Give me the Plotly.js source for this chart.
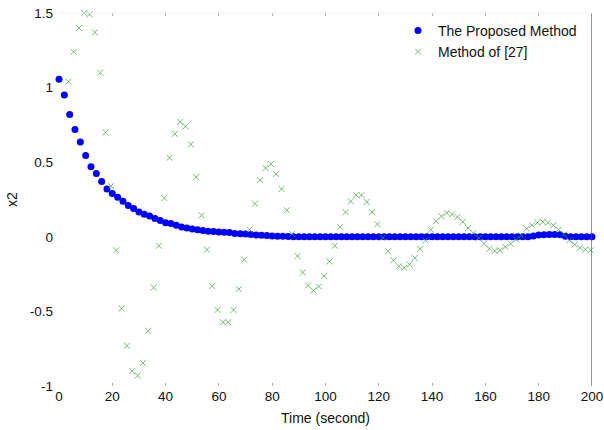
<!DOCTYPE html>
<html>
<head>
<meta charset="utf-8">
<script src="https://cdn.plot.ly/plotly-3.0.1.min.js"></script>
<style>html,body{margin:0;padding:0;background:#fff;}#chart{width:604px;height:430px;}</style>
</head>
<body>
<div id="chart"></div>
<script>
// Time samples of the proposed method (s)
const tProposed = [0,2,4,6,8,10,12,14,16,18,20,22,24,26,28,30,32,34,36,38,40,42,44,46,48,50,52,54,56,58,60,62,64,66,68,70,72,74,76,78,80,82,84,86,88,90,92,94,96,98,100,102,104,106,108,110,112,114,116,118,120,122,124,126,128,130,132,134,136,138,140,142,144,146,148,150,152,154,156,158,160,162,164,166,168,170,172,174,176,178,180,182,184,186,188,190,192,194,196,198,200];
const x2Proposed = [1.056,0.95,0.82,0.72,0.635,0.545,0.47,0.425,0.37,0.32,0.29,0.265,0.239,0.21,0.19,0.167,0.151,0.14,0.122,0.109,0.095,0.089,0.077,0.066,0.059,0.052,0.048,0.043,0.038,0.036,0.033,0.03,0.028,0.022,0.02,0.018,0.016,0.012,0.01,0.009,0.006,0.004,0.003,0.002,0.001,0,0,0,0,0,0,0,0,0,0,0,0,0,0,0,0,0,0,0,0,0,0,0,0,0,0,0,0,0,0,0,0,0,0,0,0,0,0,0,0,0,0,0,0,0.005,0.012,0.014,0.015,0.015,0.013,0.004,0,0,0,0,0];
// Time samples of the method of [27] (s)
const tRef27 = [3.5,5.5,7.5,9.5,11.5,13.5,15.5,17.5,19.5,21.5,23.5,25.5,27.5,29.5,31.5,33.5,35.5,37.5,39.5,41.5,43.5,45.5,47.5,49.5,51.5,53.5,55.5,57.5,59.5,61.5,63.5,65.5,67.5,69.5,71.5,73.5,75.5,77.5,79.5,81.5,83.5,85.5,87.5,89.5,91.5,93.5,95.5,97.5,99.5,101.5,103.5,105.5,107.5,109.5,111.5,113.5,115.5,117.5,119.5,121.5,123.5,125.5,127.5,129.5,131.5,133.5,135.5,137.5,139.5,141.5,143.5,145.5,147.5,149.5,151.5,153.5,155.5,157.5,159.5,161.5,163.5,165.5,167.5,169.5,171.5,173.5,175.5,177.5,179.5,181.5,183.5,185.5,187.5,189.5,191.5,193.5,195.5,197.5,199.5];
const x2Ref27 = [1.04,1.24,1.40,1.50,1.49,1.37,1.10,0.70,0.34,-0.09,-0.48,-0.73,-0.90,-0.93,-0.845,-0.63,-0.34,-0.06,0.26,0.53,0.69,0.77,0.74,0.62,0.40,0.144,-0.086,-0.33,-0.49,-0.573,-0.573,-0.49,-0.35,-0.153,0.048,0.223,0.38,0.46,0.487,0.42,0.32,0.178,0.02,-0.129,-0.239,-0.326,-0.36,-0.333,-0.263,-0.165,-0.06,0.066,0.165,0.237,0.279,0.279,0.234,0.165,0.084,-0.005,-0.097,-0.158,-0.198,-0.207,-0.185,-0.142,-0.08,-0.024,0.048,0.104,0.138,0.16,0.149,0.133,0.10,0.059,0.025,-0.008,-0.046,-0.08,-0.095,-0.09,-0.068,-0.046,-0.019,0.01,0.055,0.077,0.095,0.10,0.095,0.077,0.048,0.015,-0.024,-0.052,-0.073,-0.086,-0.09];
const seriesNames = ["The Proposed Method", "Method of [27]"];
const xTicks = [0,20,40,60,80,100,120,140,160,180,200];
const yTicks = [-1,-0.5,0,0.5,1,1.5];
const yTickText = ["-1","-0.5","0","0.5","1","1.5"];

const fam = "Arial, 'Liberation Sans', sans-serif";

const traces = [
  {x: tProposed, y: x2Proposed, name: seriesNames[0], type: "scatter", mode: "markers", cliponaxis: false,
   marker: {symbol: "circle", size: 7, color: "#0000ff", line: {width: 0}}},
  {x: tRef27, y: x2Ref27, name: seriesNames[1], type: "scatter", mode: "markers", cliponaxis: false,
   marker: {symbol: "x-thin", size: 6, color: "rgba(70,160,70,0.75)", line: {width: 1, color: "rgba(70,160,70,0.75)"}}}
];

const layout = {
  width: 604, height: 430,
  margin: {l: 59, r: 12, t: 13, b: 44, pad: 0},
  paper_bgcolor: "#fff", plot_bgcolor: "#fff",
  font: {family: fam, size: 13, color: "#111"},
  showlegend: true,
  legend: {x: 0.636, y: 0.995, xanchor: "left", yanchor: "top", bgcolor: "rgba(0,0,0,0)",
           font: {family: fam, size: 14, color: "#111"}, itemwidth: 30, tracegroupgap: 0},
  xaxis: {range: [0, 200], tickvals: xTicks, ticktext: xTicks.map(String), showgrid: false, zeroline: false,
          showline: false, ticks: "inside", ticklen: 3, tickcolor: "#aaa", mirror: "ticks",
          tickfont: {family: fam, size: 13.5, color: "#111"},
          title: {text: "Time (second)", font: {family: fam, size: 14, color: "#111"}, standoff: 10}},
  yaxis: {range: [-1, 1.5], tickvals: yTicks, ticktext: yTickText, showgrid: false, zeroline: false,
          showline: false, ticks: "", ticklabelstandoff: 5,
          tickfont: {family: fam, size: 13.5, color: "#111"},
          title: {text: "x2", font: {family: fam, size: 14, color: "#111"}, standoff: 8}},
  shapes: [
    {type: "line", xref: "x", yref: "paper", x0: 200, x1: 200, y0: 0, y1: 1, line: {color: "#555", width: 1.3}},
    {type: "line", xref: "paper", yref: "paper", x0: 0, x1: 1, y0: 1, y1: 1, line: {color: "#f2f2f2", width: 1}}
  ]
};

Plotly.newPlot("chart", traces, layout, {staticPlot: true, displayModeBar: false});
</script>
</body>
</html>
